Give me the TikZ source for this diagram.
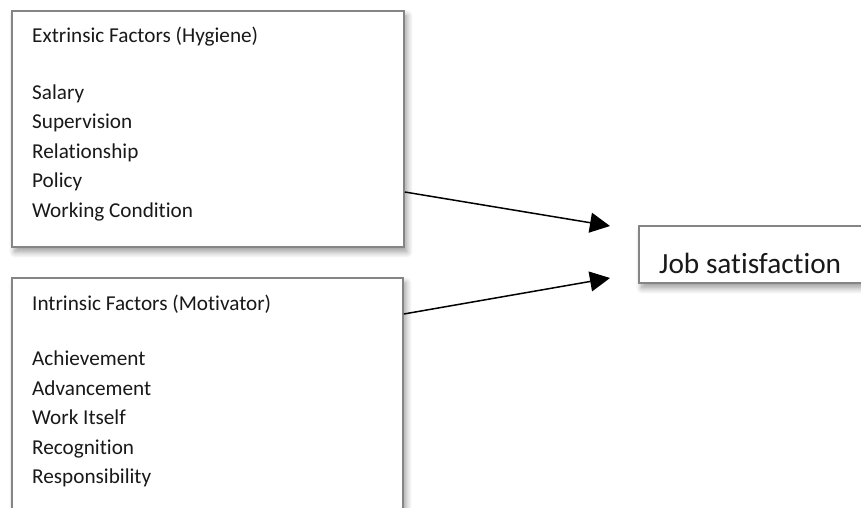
\documentclass[tikz,border=0pt]{standalone}
\usepackage{fontspec}
\setmainfont{Carlito}[Ligatures=NoCommon]
\usetikzlibrary{shadows.blur,arrows.meta}
\tikzset{
  factorbox/.style={draw=black!48, line width=1.8pt, fill=white, anchor=north west, inner sep=0pt,
    blur shadow={shadow xshift=3pt, shadow yshift=-5pt, shadow blur steps=8, shadow blur radius=6pt, shadow opacity=40}},
  itemtext/.style={anchor=base west, inner sep=0pt, text=black!90,
    font=\fontsize{21.2}{25}\selectfont},
  jobtext/.style={anchor=base west, inner sep=0pt, text=black!90, font=\fontsize{29.3}{34}\selectfont},
  link/.style={line width=1.5pt, -{Triangle[length=20pt,width=20pt]}}
}
\begin{document}
\begin{tikzpicture}[x=1pt,y=-1pt]
\useasboundingbox (0,0) rectangle (861,508);
% boxes
\node[factorbox, minimum width=392pt, minimum height=236pt] (ext) at (11,10) {};
\node[factorbox, minimum width=391pt, minimum height=260pt] (int) at (11,277) {};
\node[factorbox, minimum width=250pt, minimum height=57pt] (job) at (638,225) {};
% texts
\node[itemtext] (extt) at (32,42.5) {Extrinsic Factors (Hygiene)};
\foreach \t [count=\i] in {Salary,Supervision,Relationship,Policy,Working Condition}
  \node[itemtext] (ext\i) at (32,{99.5+(\i-1)*29.4}) {\t};
\node[itemtext] (intt) at (32,310.5) {Intrinsic Factors (Motivator)};
\foreach \t [count=\i] in {Achievement,Advancement,Work Itself,Recognition,Responsibility}
  \node[itemtext] (int\i) at (32,{365.5+(\i-1)*29.5}) {\t};
\node[jobtext] (jobt) at (659,273) {Job satisfaction};
% connectors
\coordinate (s1) at (ext.east |- 0,192);
\coordinate (s2) at (int.east |- 0,314);
\coordinate (e1) at (610,226);
\coordinate (e2) at (610,278);
\draw[link] (s1) -- (e1);
\draw[link] (s2) -- (e2);
\end{tikzpicture}
\end{document}
